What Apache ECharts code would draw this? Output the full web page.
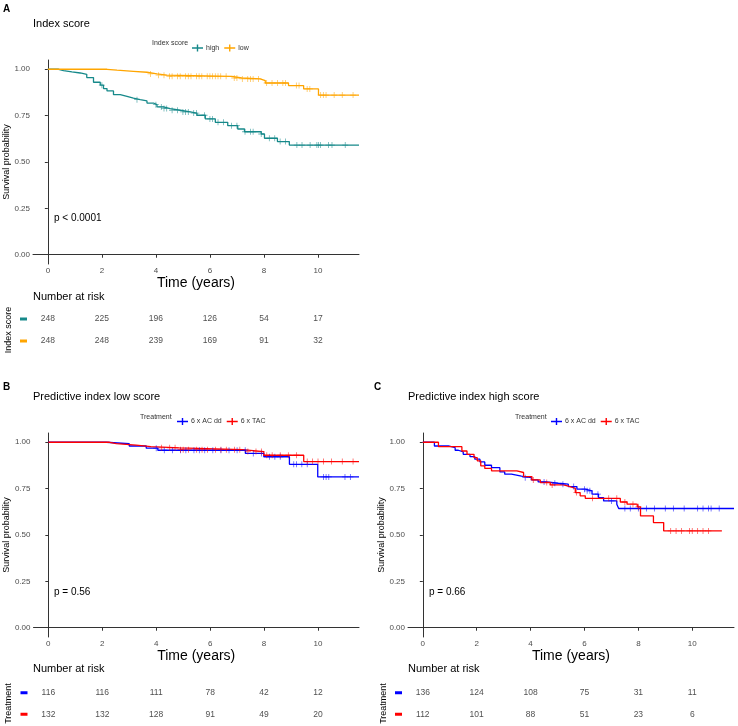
<!DOCTYPE html>
<html><head><meta charset="utf-8">
<script src="https://cdn.jsdelivr.net/npm/echarts@6/dist/echarts.min.js"></script>
<style>html,body{margin:0;padding:0;background:#fff}#c{width:738px;height:726px}</style>
</head><body><div id="c"></div>
<script>
// ---------- tick values ----------
const timeTicks = [0, 2, 4, 6, 8, 10];
const survTicks = [0, 0.25, 0.5, 0.75, 1];

// ---------- Panel A: Index score ----------
const aGroups = ['high', 'low'];
const aHighT = [0, 0.4, 0.58, 0.89, 1.2, 1.44, 1.69, 1.94, 2.06, 2.19, 2.43, 2.68, 2.93, 3.17, 3.42, 3.67, 3.91, 4.04, 4.28, 4.53, 4.9, 5.27, 5.52, 5.83, 6.2, 6.66, 7.03, 7.28, 7.9, 8.02, 8.5, 8.94];
const aHighS = [1, 0.993, 0.986, 0.98, 0.973, 0.955, 0.93, 0.914, 0.896, 0.883, 0.863, 0.854, 0.845, 0.836, 0.829, 0.818, 0.809, 0.797, 0.788, 0.779, 0.77, 0.764, 0.752, 0.732, 0.714, 0.696, 0.678, 0.663, 0.651, 0.628, 0.61, 0.591];
const aHighCens = [2.0, 3.3, 4.0, 4.2, 4.3, 4.4, 4.6, 4.8, 5.0, 5.1, 5.2, 5.4, 5.5, 5.8, 6.0, 6.1, 6.3, 6.5, 6.8, 7.0, 7.3, 7.5, 7.6, 7.9, 8.2, 8.4, 8.6, 8.8, 9.22, 9.41, 9.71, 9.96, 10.02, 10.09, 10.39, 10.52, 11.01];
const aLowT = [0, 2.19, 2.56, 3.17, 3.67, 4.04, 4.4, 6.81, 7.18, 7.86, 8.05, 8.91, 9.47, 10.02];
const aLowS = [1, 0.995, 0.989, 0.984, 0.975, 0.968, 0.962, 0.953, 0.948, 0.939, 0.926, 0.912, 0.894, 0.861];
const aLowCens = [3.8, 4.1, 4.3, 4.5, 4.6, 4.8, 4.9, 5.1, 5.2, 5.3, 5.5, 5.6, 5.7, 5.9, 6.0, 6.1, 6.2, 6.3, 6.4, 6.6, 6.9, 7.0, 7.2, 7.4, 7.5, 7.6, 7.8, 8.1, 8.3, 8.5, 8.7, 8.8, 9.2, 9.3, 9.6, 9.7, 10.1, 10.2, 10.3, 10.6, 10.9, 11.3];
const aRiskHigh = [248, 225, 196, 126, 54, 17];
const aRiskLow = [248, 248, 239, 169, 91, 32];

// ---------- Panel B: Predictive index low score ----------
const treatGroups = ['6 x AC dd', '6 x TAC'];
const bAcT = [0, 2.15, 3.0, 3.63, 4.06, 7.31, 7.99, 8.94, 9.99];
const bAcS = [1, 0.992, 0.98, 0.968, 0.957, 0.94, 0.922, 0.881, 0.813];
const bAcCens = [4.0, 4.3, 4.6, 4.9, 5.1, 5.4, 5.6, 5.8, 6.1, 6.4, 6.7, 7.0, 7.3, 7.6, 7.9, 8.2, 8.4, 8.6, 9.1, 9.2, 9.4, 9.6, 10.2, 10.3, 10.4, 11.0, 11.2];
const bTacT = [0, 2.27, 2.52, 3.26, 3.8, 4.86, 7.2, 7.99, 9.47];
const bTacS = [1, 0.993, 0.985, 0.977, 0.97, 0.96, 0.95, 0.93, 0.896];
const bTacCens = [4.2, 4.5, 4.7, 4.9, 5.0, 5.2, 5.5, 5.7, 5.9, 6.2, 6.4, 6.6, 6.9, 7.1, 7.4, 7.7, 7.9, 8.1, 8.3, 8.6, 8.9, 9.2, 9.6, 9.8, 10.0, 10.2, 10.5, 10.9, 11.3];
const bRiskAc = [116, 116, 111, 78, 42, 12];
const bRiskTac = [132, 132, 128, 91, 49, 20];

// ---------- Panel C: Predictive index high score ----------
const cAcT = [0, 0.43, 0.95, 1.2, 1.32, 1.5, 1.75, 1.93, 2.12, 2.3, 2.55, 2.86, 3.04, 3.29, 3.66, 4.03, 4.28, 4.59, 5.03, 5.4, 5.72, 6.03, 6.28, 6.52, 6.71, 7.2, 7.27];
const cAcS = [1, 0.98, 0.971, 0.957, 0.948, 0.935, 0.923, 0.909, 0.894, 0.876, 0.863, 0.84, 0.828, 0.818, 0.809, 0.797, 0.786, 0.779, 0.774, 0.761, 0.747, 0.738, 0.72, 0.702, 0.684, 0.666, 0.643];
const cAcCens = [3.8, 4.5, 4.9, 5.2, 5.6, 6.0, 6.1, 6.2, 6.5, 7.0, 7.5, 7.7, 8.0, 8.3, 8.6, 9.0, 9.3, 9.7, 10.2, 10.4, 10.6, 10.7, 11.0];
const cTacT = [0, 0.58, 1.45, 1.64, 1.9, 2.02, 2.15, 2.3, 2.55, 3.49, 3.74, 4.05, 4.36, 4.73, 5.22, 5.47, 5.66, 5.84, 6.03, 7.33, 7.58, 7.96, 8.08, 8.56, 8.94];
const cTacS = [1, 0.976, 0.953, 0.935, 0.917, 0.9, 0.873, 0.859, 0.846, 0.837, 0.815, 0.797, 0.783, 0.77, 0.761, 0.752, 0.729, 0.711, 0.698, 0.678, 0.666, 0.652, 0.603, 0.567, 0.522];
const cTacCens = [4.1, 4.6, 4.8, 5.7, 6.3, 6.9, 7.2, 7.5, 7.8, 8.0, 9.2, 9.4, 9.6, 9.9, 10.0, 10.2, 10.4, 10.6];
const cTacEnd = 11.1;
const cRiskAc = [136, 124, 108, 75, 31, 11];
const cRiskTac = [112, 101, 88, 51, 23, 6];

// ---------- styling ----------
const FONT = 'Liberation Sans, Arial, sans-serif';
const TEAL = '#16898a', ORANGE = '#ffa500', BLUE = '#0000ff', RED = '#ff0000';
const CROSS = 'path://M0,2.6H2.6V0H3.4V2.6H6V3.4H3.4V6H2.6V3.4H0Z';
const KEY = 'path://M0,2.8H4.8V0H6.2V2.8H11V4.2H6.2V7H4.8V4.2H0Z';

function stepAt(T, S, t) { let v = S[0]; for (let i = 0; i < T.length; i++) if (T[i] <= t) v = S[i]; return v; }

const series = [];
function addCurve(name, T, S, cens, endT, color, xi) {
  const d = T.map((t, i) => [t, S[i]]);
  d.push([endT, S[S.length - 1]]);
  series.push({ type: 'line', name, step: 'end', data: d, xAxisIndex: xi, yAxisIndex: xi,
    symbol: 'none', showSymbol: false, lineStyle: { color, width: 1.3 }, itemStyle: { color },
    silent: true, animation: false, z: 3 });
  series.push({ type: 'scatter', name, data: cens.map(t => [t, stepAt(T, S, t)]), xAxisIndex: xi, yAxisIndex: xi,
    symbol: CROSS, symbolSize: [6, 6], itemStyle: { color, opacity: 0.65 }, silent: true, animation: false, z: 4 });
}
function addRisk(cats, rows, xi) {
  const d = [];
  rows.forEach((r, ri) => r.forEach((v, k) => d.push([timeTicks[k], cats[ri], v])));
  series.push({ type: 'scatter', name: 'risk' + xi, data: d, xAxisIndex: xi, yAxisIndex: xi, symbolSize: 0, silent: true, animation: false,
    label: { show: true, position: 'inside', formatter: p => String(p.value[2]), fontSize: 8.5, color: '#222', fontFamily: FONT } });
}

// panel-prefixed internal names keep the two treatment legends independent
const pre = (p, arr) => arr.map(n => p + '|' + n);
const bNames = pre('B', treatGroups), cNames = pre('C', treatGroups);

const XMIN = -0.55, XMAX = 11.52, CXMAX = 11.55;
addCurve('high', aHighT, aHighS, aHighCens, XMAX, TEAL, 0);
addCurve('low', aLowT, aLowS, aLowCens, XMAX, ORANGE, 0);
addRisk(aGroups, [aRiskHigh, aRiskLow], 1);
addCurve(bNames[0], bAcT, bAcS, bAcCens, XMAX, BLUE, 2);
addCurve(bNames[1], bTacT, bTacS, bTacCens, XMAX, RED, 2);
addRisk(treatGroups, [bRiskAc, bRiskTac], 3);
addCurve(cNames[0], cAcT, cAcS, cAcCens, CXMAX, BLUE, 4);
addCurve(cNames[1], cTacT, cTacS, cTacCens, cTacEnd, RED, 4);
addRisk(treatGroups, [cRiskAc, cRiskTac], 5);

const grids = [
  { left: 33, top: 60, width: 326, height: 204 },
  { left: 33, top: 308, width: 326, height: 44 },
  { left: 33.5, top: 433, width: 325.5, height: 204 },
  { left: 33.5, top: 682, width: 325.5, height: 43 },
  { left: 408, top: 433, width: 326, height: 204 },
  { left: 408, top: 682, width: 326, height: 43 }
];

function plotX(max) {
  return { type: 'value', min: XMIN, max: max,
    axisLine: { show: true, lineStyle: { color: '#333', width: 1 } },
    axisTick: { show: true, length: 3, customValues: timeTicks, lineStyle: { color: '#333' } },
    axisLabel: { customValues: timeTicks, fontSize: 8, color: '#4d4d4d', margin: 3, fontFamily: FONT },
    splitLine: { show: false },
    name: 'Time (years)', nameLocation: 'middle', nameGap: 11,
    nameTextStyle: { fontSize: 14, color: '#000', fontFamily: FONT, verticalAlign: 'top' } };
}
function plotY() {
  return { type: 'value', min: -0.05, max: 1.05,
    axisLine: { show: true, lineStyle: { color: '#333', width: 1 } },
    axisTick: { show: true, length: 3, customValues: survTicks, lineStyle: { color: '#333' } },
    axisLabel: { customValues: survTicks, formatter: v => v.toFixed(2), fontSize: 8, color: '#4d4d4d', margin: 3, fontFamily: FONT },
    splitLine: { show: false },
    name: 'Survival probability', nameLocation: 'middle', nameGap: 20,
    nameTextStyle: { fontSize: 9, color: '#000', fontFamily: FONT } };
}
function riskX(max) { return { type: 'value', min: XMIN, max: max, show: false }; }
function riskY(cats, colors, title) {
  const rich = {}; cats.forEach((c, i) => { rich['k' + i] = { width: 7, height: 3, backgroundColor: colors[i] }; });
  return { type: 'category', data: cats, inverse: true,
    axisLine: { show: false }, axisTick: { show: false }, splitLine: { show: false },
    axisLabel: { margin: 6, formatter: v => '{k' + cats.indexOf(v) + '| }', rich },
    name: title, nameLocation: 'middle', nameGap: 20,
    nameTextStyle: { fontSize: 9, color: '#000', fontFamily: FONT } };
}
const xAxes = [plotX(XMAX), riskX(XMAX), plotX(XMAX), riskX(XMAX), plotX(CXMAX), riskX(CXMAX)];
xAxes.forEach((a, i) => a.gridIndex = i);
const yAxes = [plotY(), riskY(aGroups, [TEAL, ORANGE], 'Index score'), plotY(), riskY(treatGroups, [BLUE, RED], 'Treatment'), plotY(), riskY(treatGroups, [BLUE, RED], 'Treatment')];
yAxes.forEach((a, i) => a.gridIndex = i);

function legendAt(left, top, names, colors) {
  return { left, top, orient: 'horizontal', itemWidth: 11, itemHeight: 7, itemGap: 5, selectedMode: false,
    data: names.map((n, i) => ({ name: n, icon: KEY,
      itemStyle: { color: colors[i], borderColor: colors[i], borderWidth: 0, opacity: 1 },
      lineStyle: { color: colors[i], width: 0, opacity: 0 } })),
    formatter: n => n.replace(/^[A-Z]\|/, ''),
    textStyle: { fontSize: 7, color: '#333', fontFamily: FONT, padding: [0, 0, 0, -2] } };
}

function txt(x, y, s, size, opts) {
  return { type: 'text', x, y, style: Object.assign({ text: s, fontSize: size, fontFamily: FONT, fill: '#000', textVerticalAlign: 'middle' }, opts || {}) };
}

const graphics = [
  txt(3, 9, 'A', 10, { fontWeight: 'bold' }),
  txt(33, 24, 'Index score', 11),
  txt(152, 43, 'Index score', 7, { fill: '#333' }),
  txt(54, 218, 'p < 0.0001', 10),
  txt(33, 297, 'Number at risk', 11),
  txt(3, 387, 'B', 10, { fontWeight: 'bold' }),
  txt(33, 397, 'Predictive index low score', 11),
  txt(140, 417, 'Treatment', 7, { fill: '#333' }),
  txt(54, 592, 'p = 0.56', 10),
  txt(33, 669, 'Number at risk', 11),
  txt(374, 387, 'C', 10, { fontWeight: 'bold' }),
  txt(408, 397, 'Predictive index high score', 11),
  txt(515, 417, 'Treatment', 7, { fill: '#333' }),
  txt(429, 592, 'p = 0.66', 10),
  txt(408, 669, 'Number at risk', 11)
];

const chart = echarts.init(document.getElementById('c'), null, { renderer: 'canvas' });
chart.setOption({
  animation: false,
  backgroundColor: '#fff',
  grid: grids,
  xAxis: xAxes,
  yAxis: yAxes,
  legend: [legendAt(187, 39.5, aGroups, [TEAL, ORANGE]), legendAt(172, 413, bNames, [BLUE, RED]), legendAt(546, 413, cNames, [BLUE, RED])],
  graphic: graphics,
  series
});
</script></body></html>
